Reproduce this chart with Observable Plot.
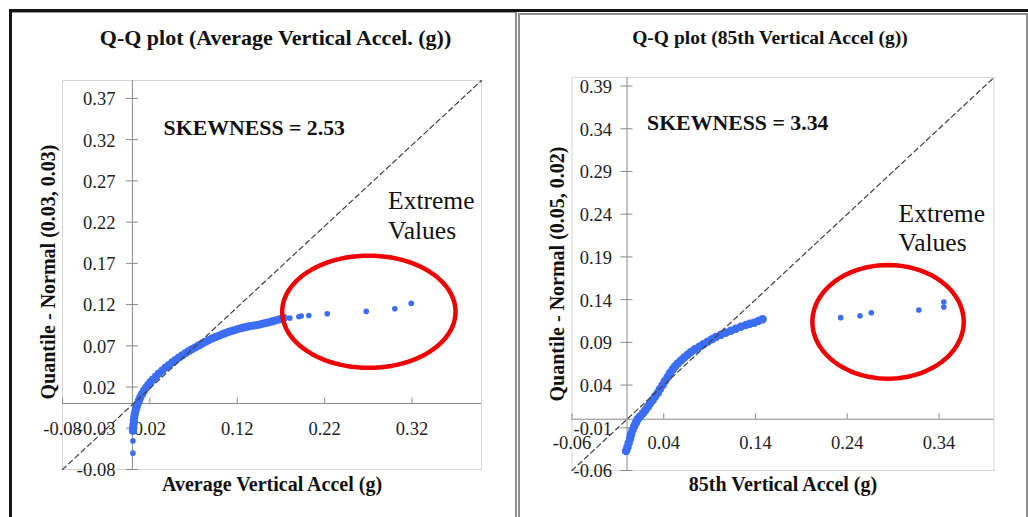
<!DOCTYPE html>
<html><head><meta charset="utf-8">
<script src="https://cdn.jsdelivr.net/npm/d3@7"></script>
<script src="https://cdn.jsdelivr.net/npm/@observablehq/plot@0.6"></script>
<style>
html,body{margin:0;padding:0;background:#fff;}
#root{position:relative;width:1028px;height:517px;overflow:hidden;background:#fff;font-family:"Liberation Serif","Times New Roman",serif;}
.ln{position:absolute;}
#p1,#p2{position:absolute;top:0;}
#p1{left:0px}#p2{left:514px}
</style></head><body>
<div id="root">
 <div id="p1"></div><div id="p2"></div>
 <div class="ln" style="left:9px;top:9px;width:1019px;height:3px;background:#151515"></div>
 <div class="ln" style="left:9px;top:9px;width:3px;height:508px;background:#151515"></div>
 <div class="ln" style="left:12px;top:12px;width:503px;height:1px;background:#9a9a9a"></div>
 <div class="ln" style="left:515px;top:12px;width:2px;height:505px;background:#8f8f8f"></div>
 <div class="ln" style="left:518px;top:13px;width:2px;height:504px;background:#8f8f8f"></div>
 <div class="ln" style="left:518px;top:13px;width:510px;height:2px;background:#8f8f8f"></div>
 <div class="ln" style="left:1026px;top:13px;width:2px;height:504px;background:#8f8f8f"></div>
</div>
<script>
// ---------- Panel 1: Average Vertical Accel ----------
const avgTitle = "Q-Q plot (Average Vertical Accel. (g))";
const avgXLabel = "Average Vertical Accel (g)";
const avgYLabel = "Quantile - Normal (0.03, 0.03)";
const avgSkew = "SKEWNESS = 2.53";
const avgXTicks = [-0.08, 0.02, 0.12, 0.22, 0.32];
const avgYTicks = [-0.08, -0.03, 0.02, 0.07, 0.12, 0.17, 0.22, 0.27, 0.32, 0.37];
const avgBulkX = [0.0006,0.0008,0.0014,0.0017,0.0022,0.0029,0.0039,0.0048,0.0059,0.0074,0.0090,0.0111,0.0132,0.0157,0.0182,0.0208,0.0235,0.0269,0.0303,0.0342,0.0380,0.0418,0.0457,0.0494,0.0532,0.0571,0.0609,0.0646,0.0685,0.0723,0.0761,0.0800,0.0838,0.0875,0.0914,0.0952,0.0990,0.1029,0.1066,0.1104,0.1143,0.1181,0.1219,0.1257,0.1295,0.1333,0.1372,0.1410,0.1447,0.1486,0.1524,0.1562,0.1601,0.1638,0.1676,0.1707,0.1733];
const avgBulkY = [-0.0331,-0.0289,-0.0246,-0.0204,-0.0161,-0.0119,-0.0076,-0.0043,-0.0007,0.0033,0.0073,0.0114,0.0154,0.0191,0.0227,0.0260,0.0291,0.0328,0.0364,0.0400,0.0437,0.0467,0.0498,0.0528,0.0558,0.0585,0.0612,0.0636,0.0660,0.0682,0.0704,0.0727,0.0749,0.0769,0.0789,0.0806,0.0822,0.0839,0.0854,0.0869,0.0882,0.0894,0.0907,0.0917,0.0927,0.0936,0.0943,0.0949,0.0955,0.0966,0.0976,0.0985,0.0995,0.1007,0.1019,0.1028,0.1036];
const avgTailX = [0.0006, 0.0006, 0.1802, 0.1905, 0.1932, 0.2019, 0.2230, 0.2676, 0.3003, 0.3191];
const avgTailY = [-0.0602, -0.0453, 0.1036, 0.1052, 0.1061, 0.1068, 0.1089, 0.1117, 0.1149, 0.1214];

// ---------- Panel 2: 85th Vertical Accel ----------
const p85Title = "Q-Q plot (85th Vertical Accel (g))";
const p85XLabel = "85th Vertical Accel (g)";
const p85YLabel = "Quantile - Normal (0.05, 0.02)";
const p85Skew = "SKEWNESS = 3.34";
const p85XTicks = [-0.06, 0.04, 0.14, 0.24, 0.34];
const p85YTicks = [-0.06, -0.01, 0.04, 0.09, 0.14, 0.19, 0.24, 0.29, 0.34, 0.39];
const p85BulkX = [-0.0011,0.0005,0.0018,0.0033,0.0044,0.0060,0.0079,0.0098,0.0116,0.0141,0.0171,0.0196,0.0225,0.0250,0.0280,0.0305,0.0334,0.0359,0.0388,0.0413,0.0443,0.0468,0.0497,0.0522,0.0552,0.0588,0.0624,0.0660,0.0696,0.0740,0.0787,0.0832,0.0878,0.0925,0.0968,0.1023,0.1077,0.1132,0.1186,0.1240,0.1295,0.1338,0.1385,0.1431,0.1477];
const p85BulkY = [-0.0372,-0.0326,-0.0275,-0.0226,-0.0177,-0.0126,-0.0080,-0.0039,-0.0001,0.0032,0.0067,0.0102,0.0143,0.0184,0.0225,0.0266,0.0307,0.0354,0.0400,0.0447,0.0494,0.0541,0.0582,0.0617,0.0652,0.0687,0.0722,0.0755,0.0787,0.0818,0.0849,0.0878,0.0907,0.0936,0.0963,0.0988,0.1013,0.1036,0.1060,0.1082,0.1103,0.1117,0.1130,0.1150,0.1170];
const p85TailX = [0.2329, 0.2539, 0.2663, 0.3181, 0.3453, 0.3453];
const p85TailY = [0.1189, 0.1212, 0.1247, 0.1279, 0.1314, 0.1372];

const extremeText = "Extreme\nValues";

const fmt = d => d.toFixed(2);
const BLUE = "#3b6ef5";
const AXIS = "#8a8a8a";

function panel(c) {
  const bulk = c.bulkX.map((x, i) => ({x, y: c.bulkY[i]}));
  const tail = c.tailX.map((x, i) => ({x, y: c.tailY[i]}));
  const diag = [{x: c.xDomain[0], y: c.yDomain[0]}, {x: c.xDomain[1], y: c.yDomain[1]}];
  const e = c.ellipse;
  const ell = d3.range(0, 97).map(i => {
    const t = i / 96 * 2 * Math.PI;
    return {x: e.cx + e.rx * Math.cos(t), y: e.cy + e.ry * Math.sin(t)};
  });
  return Plot.plot({
    width: 514, height: 517,
    marginLeft: c.m[0], marginRight: c.m[1], marginTop: c.m[2], marginBottom: c.m[3],
    x: {domain: c.xDomain, axis: null},
    y: {domain: c.yDomain, axis: null},
    style: {fontFamily: '"Liberation Serif", "Times New Roman", serif', fontSize: "18.5px", background: "transparent", overflow: "visible", color: "#222"},
    marks: [
      Plot.frame({stroke: "#d6d6d6"}),
      Plot.ruleY([0], {stroke: AXIS}),
      Plot.ruleX([0], {stroke: AXIS}),
      Plot.ruleX(c.xTicks, {x: d => d, y1: () => 0, y2: () => 0, insetTop: -5.5, stroke: AXIS}),
      Plot.ruleY(c.yTicks, {y: d => d, x1: () => 0, x2: () => 0, insetLeft: -6, insetRight: -6, stroke: AXIS}),
      Plot.text(c.xTicks, {x: d => d, y: () => 0, text: fmt, dy: c.xLabelDy, fill: "#222"}),
      Plot.text(c.yTicks, {x: () => 0, y: d => d, text: fmt, textAnchor: "end", dx: c.yLabelDx, dy: 1, fill: "#222"}),
      Plot.dot(bulk, {x: "x", y: "y", r: c.bulkR, fill: BLUE}),
      Plot.dot(tail, {x: "x", y: "y", r: 2.8, fill: BLUE}),
      Plot.line(diag, {x: "x", y: "y", stroke: "#404040", strokeWidth: 1.2, strokeDasharray: "5,3.5"}),
      Plot.line(ell, {x: "x", y: "y", stroke: "#f00000", strokeWidth: 4.5}),
      Plot.text([c.title], {frameAnchor: "top", lineAnchor: "middle", dy: c.titleDy, dx: c.titleDx, text: d => d, fontWeight: "bold", fontSize: c.titleSize, fill: "#111"}),
      Plot.text([c.yLabel], {frameAnchor: "left", textAnchor: "middle", lineAnchor: "middle", rotate: -90, dx: -14, dy: c.yLabelDy, text: d => d, fontWeight: "bold", fontSize: 20, fill: "#111"}),
      Plot.text([c.xLabel], {frameAnchor: "bottom", lineAnchor: "middle", dy: c.xTitleDy, text: d => d, fontWeight: "bold", fontSize: 20, fill: "#111"}),
      Plot.text([c.skew], {x: () => c.skewPos[0], y: () => c.skewPos[1], text: d => d, textAnchor: "start", fontWeight: "bold", fontSize: 21.8, fill: "#111"}),
      Plot.text([extremeText], {x: () => c.extPos[0], y: () => c.extPos[1], text: d => d, textAnchor: "start", fontSize: 25.5, lineHeight: 1.17, fill: "#111"})
    ]
  });
}

document.getElementById("p1").appendChild(panel({
  title: avgTitle, xLabel: avgXLabel, yLabel: avgYLabel, skew: avgSkew,
  xTicks: avgXTicks, yTicks: avgYTicks,
  bulkX: avgBulkX, bulkY: avgBulkY, tailX: avgTailX, tailY: avgTailY,
  xDomain: [-0.08, 0.3995], yDomain: [-0.08, 0.3917],
  m: [62, 33, 80, 48],
  xLabelDy: 26, yLabelDx: -17,
  bulkR: 4.1,
  ellipse: {cx: 0.2706, cy: 0.1113, rx: 0.0992, ry: 0.068},
  titleDy: -42.5, titleDx: 3.5, titleSize: 22,
  yLabelDy: -3, xTitleDy: 15.5,
  skewPos: [0.0357, 0.3346], extPos: [0.2926, 0.2296]
}));

document.getElementById("p2").appendChild(panel({
  title: p85Title, xLabel: p85XLabel, yLabel: p85YLabel, skew: p85Skew,
  xTicks: p85XTicks, yTicks: p85YTicks,
  bulkX: p85BulkX, bulkY: p85BulkY, tailX: p85TailX, tailY: p85TailY,
  xDomain: [-0.06, 0.40], yDomain: [-0.06, 0.40],
  m: [57.5, 34.5, 77, 47],
  xLabelDy: 24, yLabelDx: -15,
  bulkR: 4.3,
  ellipse: {cx: 0.2845, cy: 0.114, rx: 0.0825, ry: 0.0665},
  titleDy: -39.5, titleDx: -13, titleSize: 19.5,
  yLabelDy: 0, xTitleDy: 14.5,
  skewPos: [0.0218, 0.3468], extPos: [0.296, 0.225]
}));
</script>
</body></html>
